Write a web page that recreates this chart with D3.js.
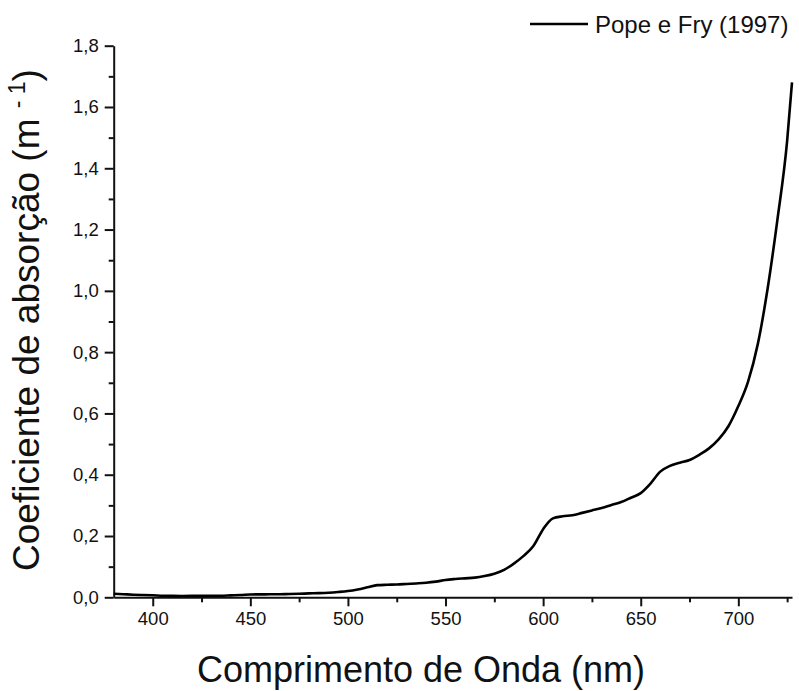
<!DOCTYPE html>
<html lang="pt">
<head>
    <meta charset="UTF-8">
    <title>Coeficiente de absorção - Pope e Fry (1997)</title>
    <script src="https://d3js.org/d3.v7.min.js"></script>
    <style>
        body {
            margin: 0;
            background: #fff;
            font-family: 'Liberation Sans', Arial, sans-serif;
        }
        svg text {
            fill: #111;
        }
    </style>
</head>
<body>
    <svg id="chart" width="799" height="691"></svg>
    <script>
        // Pope e Fry (1997) - comprimento de onda (nm) e absorção (m-1)
        const wavelength = [380, 385, 390, 395, 400, 405, 410, 415, 420, 425, 430, 435, 440, 445,
            450, 455, 460, 465, 470, 475, 480, 485, 490, 495, 500, 505, 510, 515, 520, 525,
            530, 535, 540, 545, 550, 555, 560, 565, 570, 575, 580, 585, 590, 595, 600, 605,
            610, 615, 620, 625, 630, 635, 640, 645, 650, 655, 660, 665, 670, 675, 680, 685,
            690, 695, 700, 705, 710, 715, 720, 725, 727.5];
        const absorption = [0.0114, 0.0100, 0.0085, 0.0075, 0.0066, 0.0053, 0.0047, 0.0044, 0.0045,
            0.0048, 0.0050, 0.0053, 0.0064, 0.0075, 0.0092, 0.0096, 0.0098, 0.0101, 0.0106,
            0.0114, 0.0127, 0.0136, 0.0150, 0.0173, 0.0204, 0.0256, 0.0325, 0.0396, 0.0409,
            0.0417, 0.0434, 0.0452, 0.0474, 0.0511, 0.0565, 0.0596, 0.0619, 0.0642, 0.0695,
            0.0772, 0.0896, 0.1100, 0.1351, 0.1672, 0.2224, 0.2577, 0.2644, 0.2678, 0.2755,
            0.2834, 0.2916, 0.3012, 0.3108, 0.3250, 0.3400, 0.3710, 0.4100, 0.4290, 0.4390,
            0.4480, 0.4650, 0.4860, 0.5160, 0.5590, 0.6240, 0.7040, 0.8270, 1.0070, 1.2310,
            1.4890, 1.6800];
        const xTicks = [400, 450, 500, 550, 600, 650, 700];
        const yTicks = [0, 0.2, 0.4, 0.6, 0.8, 1.0, 1.2, 1.4, 1.6, 1.8];
        const seriesName = "Pope e Fry (1997)";

        const svg = d3.select("#chart");
        const plotLeft = 113.7, plotRight = 792, plotTop = 45.7, plotBottom = 597.3;

        const x = d3.scaleLinear().domain([380, 727.5]).range([plotLeft, plotRight]);
        const y = d3.scaleLinear().domain([0, 1.8]).range([plotBottom, plotTop]);

        const fmt = d => d.toFixed(1).replace(".", ",");

        // minor ticks
        svg.append("g")
            .attr("transform", `translate(0,${plotBottom})`)
            .call(d3.axisBottom(x).tickValues(d3.range(375, 728, 25).filter(v => v >= 380 && !xTicks.includes(v))).tickSize(5).tickFormat("").tickSizeOuter(0))
            .call(g => g.select(".domain").remove());
        svg.append("g")
            .attr("transform", `translate(${plotLeft},0)`)
            .call(d3.axisLeft(y).tickValues(d3.range(1, 18, 2).map(v => v / 10)).tickSize(5).tickFormat("").tickSizeOuter(0))
            .call(g => g.select(".domain").remove());

        // major axes
        svg.append("g")
            .attr("transform", `translate(0,${plotBottom})`)
            .call(d3.axisBottom(x).tickValues(xTicks).tickSize(9).tickPadding(6).tickSizeOuter(0));
        svg.append("g")
            .attr("transform", `translate(${plotLeft},0)`)
            .call(d3.axisLeft(y).tickValues(yTicks).tickFormat(fmt).tickSize(9).tickPadding(6).tickSizeOuter(0));

        svg.selectAll(".tick line, .domain")
            .attr("stroke", "#111")
            .attr("stroke-width", 2);
        svg.selectAll(".tick text")
            .attr("font-size", 18.5)
            .attr("font-family", "'Liberation Sans', Arial, sans-serif")
            .attr("fill", "#111");

        // curve
        const pts = wavelength.map((w, i) => [w, absorption[i]]);
        svg.append("path")
            .datum(pts)
            .attr("fill", "none")
            .attr("stroke", "#000")
            .attr("stroke-width", 2.6)
            .attr("stroke-linejoin", "round")
            .attr("d", d3.line().x(d => x(d[0])).y(d => y(d[1])).curve(d3.curveMonotoneX));

        // legend
        svg.append("line")
            .attr("x1", 530).attr("x2", 588).attr("y1", 24).attr("y2", 24)
            .attr("stroke", "#000").attr("stroke-width", 2.6);
        svg.append("text")
            .attr("x", 595).attr("y", 33)
            .attr("font-size", 24)
            .text(seriesName);

        // axis titles
        svg.append("text")
            .attr("x", 421).attr("y", 682)
            .attr("text-anchor", "middle")
            .attr("font-size", 36)
            .text("Comprimento de Onda (nm)");

        const yt = svg.append("text")
            .attr("transform", "translate(39,320) rotate(-90)")
            .attr("text-anchor", "middle")
            .attr("font-size", 37);
        yt.append("tspan").text("Coeficiente de absorção (m ");
        yt.append("tspan").attr("font-size", 23).attr("dy", -14).text("- 1");
        yt.append("tspan").attr("dy", 14).text(")");
    </script>
</body>
</html>
